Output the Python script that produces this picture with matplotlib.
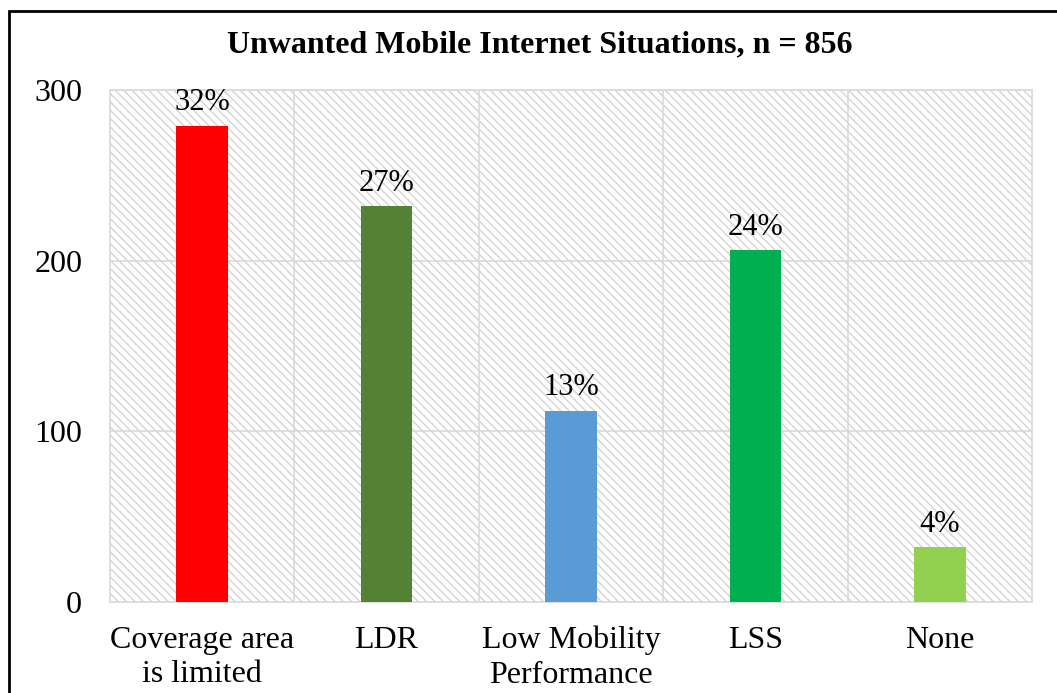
import numpy as np
import matplotlib
matplotlib.use("Agg")
import matplotlib.pyplot as plt
from matplotlib.patches import Rectangle

categories = ["Coverage area\nis limited", "LDR", "Low Mobility\nPerformance", "LSS", "None"]
counts = [279, 232, 112, 206, 32]
pct_labels = ["32%", "27%", "13%", "24%", "4%"]
bar_colors = ["#ff0000", "#548235", "#5b9bd5", "#00b050", "#92d050"]
y_ticks = [0, 100, 200, 300]

plt.rcParams['font.family'] = ['Liberation Serif', 'DejaVu Serif']
plt.rcParams['hatch.color'] = '#d4d4d4'
plt.rcParams['hatch.linewidth'] = 1.0

fig = plt.figure(figsize=(10.57, 6.93), dpi=100)
ax = fig.add_axes([110/1057, 91/693, 922/1057, 512/693])

# hatched plot background
ax.patch.set_facecolor('white')
bg = Rectangle((0, 0), 1, 1, transform=ax.transAxes, facecolor='white',
               edgecolor='#d4d4d4', hatch='\\\\\\\\', linewidth=0, zorder=0)
ax.add_patch(bg)

x = np.arange(len(categories))
ax.bar(x, counts, width=0.28, color=bar_colors, zorder=3)
for xi, c, lab in zip(x, counts, pct_labels):
    ax.text(xi, c + 5, lab, ha='center', va='bottom', fontsize=22, zorder=4)

ax.set_xlim(-0.5, len(categories) - 0.5)
ax.set_ylim(0, 300)
ax.set_yticks(y_ticks)
ax.set_xticks(x)
ax.set_xticklabels(categories, linespacing=1.25)
ax.tick_params(axis='both', length=0, labelsize=23)
ax.tick_params(axis='y', pad=20)
ax.tick_params(axis='x', pad=17)

# grid
for yv in y_ticks[1:]:
    ax.axhline(yv, color='#d9d9d9', linewidth=1.2, zorder=1)
for xv in np.arange(0.5, len(categories) - 0.5, 1):
    ax.axvline(xv, color='#d9d9d9', linewidth=1.2, zorder=1)
for s in ax.spines.values():
    s.set_color('#d9d9d9')
    s.set_linewidth(1.2)

fig.text(540/1057, 1 - 45/693, "Unwanted Mobile Internet Situations, n = 856",
         ha='center', va='center', fontsize=23, fontweight='bold')

# outer border (right/bottom run off the image)
border = Rectangle((9/1057, -0.1), 1.2, 1 - 11/693 + 0.1, transform=fig.transFigure,
                   fill=False, edgecolor='black', linewidth=2)
fig.patches.append(border)

fig.savefig("out.png", dpi=100)
